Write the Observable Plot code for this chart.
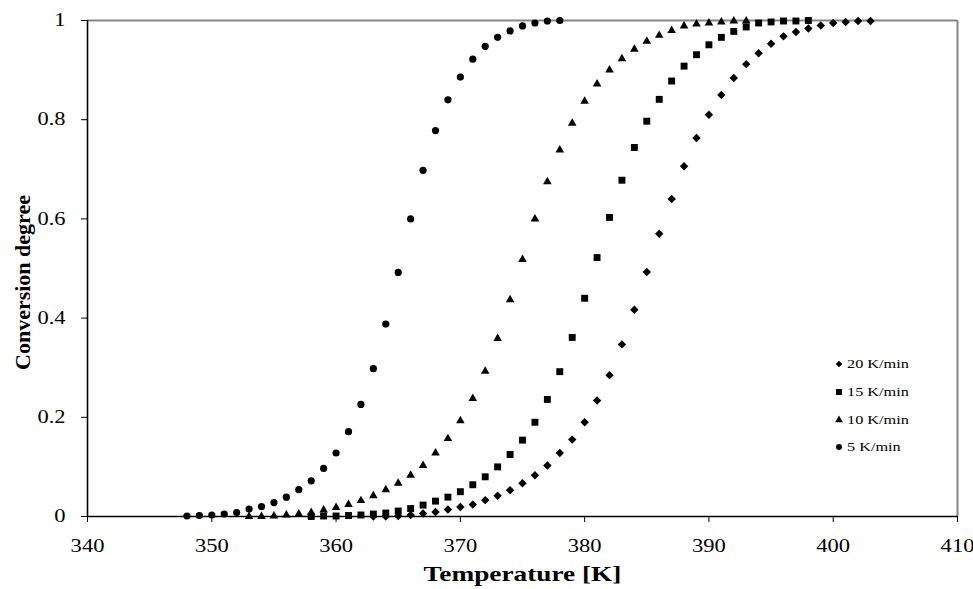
<!DOCTYPE html>
<html><head><meta charset="utf-8">
<script src="https://cdn.jsdelivr.net/npm/d3@7"></script>
<script src="https://cdn.jsdelivr.net/npm/@observablehq/plot@0.6"></script>
<style>
body{margin:0;background:#fff;}
#chart{position:relative;width:973px;height:589px;font-family:"Liberation Serif","Times New Roman",serif;}
#legend{position:absolute;left:0;top:0;}
.item{position:absolute;display:flex;align-items:center;white-space:nowrap;height:20px;}
.item svg{overflow:visible;}
.item span{font-family:"Liberation Serif",serif;font-size:13px;display:inline-block;transform:scaleX(1.25);transform-origin:left center;color:#000;margin-left:4px;line-height:20px;}
</style></head><body><div id="chart"></div>
<script>
// ---- data ----
const seriesNames = ["20 K/min", "15 K/min", "10 K/min", "5 K/min"];
const seriesSymbols = ["diamond2", "square", "triangle", "circle"];

const temp20 = [363,364,365,366,367,368,369,370,371,372,373,374,375,376,377,378,379,380,381,382,383,384,385,386,387,388,389,390,391,392,393,394,395,396,397,398,399,400,401,402,403];
const conv20 = [0,0,0.001,0.003,0.006,0.009,0.014,0.019,0.024,0.033,0.042,0.053,0.067,0.083,0.103,0.128,0.155,0.190,0.234,0.285,0.347,0.417,0.493,0.570,0.640,0.706,0.763,0.810,0.850,0.884,0.912,0.934,0.953,0.968,0.977,0.984,0.990,0.995,0.997,0.999,0.999];

const temp15 = [358,359,360,361,362,363,364,365,366,367,368,369,370,371,372,373,374,375,376,377,378,379,380,381,382,383,384,385,386,387,388,389,390,391,392,393,394,395,396,397,398];
const conv15 = [0,0.001,0.001,0.002,0.003,0.005,0.007,0.011,0.016,0.023,0.031,0.039,0.050,0.064,0.080,0.100,0.125,0.154,0.190,0.236,0.292,0.361,0.440,0.522,0.603,0.678,0.744,0.797,0.841,0.878,0.908,0.931,0.951,0.966,0.978,0.987,0.995,0.997,0.999,0.999,1.0];

const temp10 = [353,354,355,356,357,358,359,360,361,362,363,364,365,366,367,368,369,370,371,372,373,374,375,376,377,378,379,380,381,382,383,384,385,386,387,388,389,390,391,392,393];
const conv10 = [0,0,0.001,0.003,0.005,0.008,0.013,0.018,0.024,0.032,0.042,0.054,0.067,0.083,0.103,0.128,0.157,0.193,0.238,0.293,0.359,0.437,0.518,0.600,0.675,0.739,0.793,0.837,0.872,0.900,0.923,0.942,0.958,0.970,0.980,0.989,0.993,0.995,0.997,0.999,0.999];

const temp5 = [348,349,350,351,352,353,354,355,356,357,358,359,360,361,362,363,364,365,366,367,368,369,370,371,372,373,374,375,376,377,378];
const conv5 = [0.001,0.002,0.003,0.005,0.008,0.015,0.020,0.028,0.039,0.054,0.072,0.097,0.128,0.171,0.226,0.298,0.388,0.492,0.600,0.698,0.778,0.840,0.886,0.922,0.948,0.966,0.979,0.989,0.995,0.999,1.0];

const xTicks = [340,350,360,370,380,390,400,410];
const xTickLabels = ["340","350","360","370","380","390","400","410"];
const yTicks = [0,0.2,0.4,0.6,0.8,1];
const yTickLabels = ["0","0.2","0.4","0.6","0.8","1"];
const xTitle = "Temperature [K]";
const yTitle = "Conversion degree";

// ---- build table ----
const temps = [temp20, temp15, temp10, temp5];
const convs = [conv20, conv15, conv10, conv5];
const rows = [];
seriesNames.forEach((name, s) => temps[s].forEach((t, i) => rows.push({series: name, T: t, c: convs[s][i]})));

const symR = {"diamond2": 3.8, "square": 3.9, "triangle": 3.2, "circle": 3.6};

const svg = Plot.plot({
  width: 973, height: 589,
  marginLeft: 87, marginRight: 16, marginTop: 20, marginBottom: 73,
  style: {fontFamily: "Liberation Serif, Times New Roman, serif", fontSize: "18px", color: "#000", background: "#fff"},
  x: {domain: [340, 410]},
  y: {domain: [0, 1]},
  marks: [
    Plot.ruleY([1], {stroke: "#868686", strokeWidth: 2}),
    Plot.ruleX([410], {stroke: "#868686", strokeWidth: 2}),
    Plot.axisX({ticks: xTicks, tickSize: 6, tickPadding: 17, fontSize: 18, label: null, stroke: "#000",
      tickFormat: d => xTickLabels[xTicks.indexOf(d)]}),
    Plot.axisY({ticks: yTicks, tickSize: 6, tickPadding: 16, fontSize: 18, label: null, stroke: "#000",
      tickFormat: d => yTickLabels[yTicks.indexOf(d)]}),
    Plot.ruleX([340], {stroke: "#000", strokeWidth: 1.6}),
    Plot.ruleY([0], {stroke: "#000", strokeWidth: 1.6}),
    ...seriesNames.map((name, s) => Plot.dot(rows.filter(d => d.series === name), {
      x: "T", y: "c", symbol: seriesSymbols[s], r: symR[seriesSymbols[s]], fill: "#000", stroke: "none"
    })),
    Plot.text([xTitle], {frameAnchor: "bottom", textAnchor: "middle", dy: 64, fontWeight: "bold", fontSize: 21, fill: "#000"}),
    Plot.text([yTitle], {frameAnchor: "left", textAnchor: "middle", dx: -65, dy: 14, rotate: -90, fontWeight: "bold", fontSize: 22, fill: "#000"})
  ]
});
const chart = document.getElementById("chart");
chart.append(svg);

// horizontal stretch of texts (reference picture is widened)
svg.querySelectorAll("text").forEach(t => {
  const s = t.textContent;
  if (s === yTitle) return;
  const f = s === xTitle ? 1.3 : 1.25;
  const L = t.getComputedTextLength();
  if (L > 0) { t.setAttribute("textLength", (L * f).toFixed(1)); t.setAttribute("lengthAdjust", "spacingAndGlyphs"); }
});

// legend
const legend = document.createElement("div");
legend.id = "legend";
const legY = [364, 392, 419.5, 447];
const legSym = {"diamond2": d3.symbolDiamond2, "square": d3.symbolSquare, "triangle": d3.symbolTriangle, "circle": d3.symbolCircle};
const legR = {"diamond2": 3.0, "square": 3.4, "triangle": 2.9, "circle": 3.0};
seriesNames.forEach((name, s) => {
  const item = document.createElement("div");
  item.className = "item";
  item.style.left = "835px";
  item.style.top = (legY[s] - 10) + "px";
  const sym = seriesSymbols[s];
  const path = d3.symbol(legSym[sym], Math.PI * legR[sym] * legR[sym])();
  item.innerHTML = `<svg width="8" height="8" viewBox="-4 -4 8 8"><path d="${path}" fill="#000"/></svg><span>${name}</span>`;
  legend.append(item);
});
chart.append(legend);
</script>
</body></html>
